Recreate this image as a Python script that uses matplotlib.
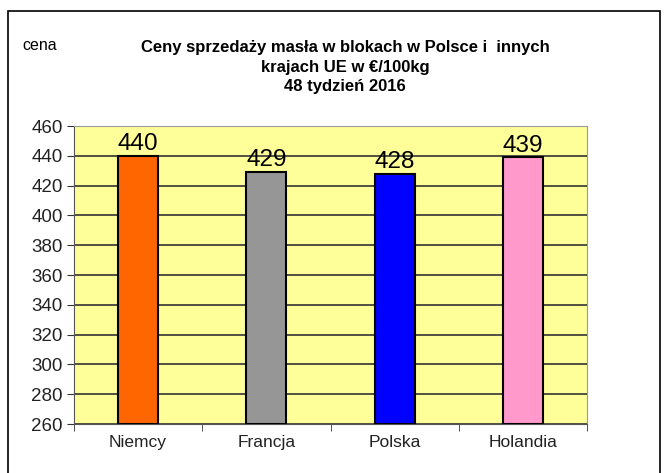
import matplotlib
matplotlib.use("Agg")
import matplotlib.pyplot as plt
from matplotlib.patches import Rectangle
from matplotlib import font_manager as fm

categories = ["Niemcy", "Francja", "Polska", "Holandia"]
values = [440, 429, 428, 439]
colors = ["#FF6600", "#969696", "#0000FF", "#FF99CC"]
yticks = list(range(260, 461, 20))

names = {f.name for f in fm.fontManager.ttflist}
narrow = "Liberation Sans Narrow" if "Liberation Sans Narrow" in names else "Liberation Sans"
plt.rcParams['font.family'] = ['Liberation Sans', 'DejaVu Sans']

W, H = 670, 473
fig = plt.figure(figsize=(6.7, 4.73), dpi=100)
fig.patch.set_facecolor("white")

# outer frame
fig.add_artist(Rectangle((8 / W, -0.05), (660 - 8) / W, (H - 11) / H + 0.05,
                         transform=fig.transFigure, fill=False, edgecolor="black", lw=1.2))

left, right, top, bottom = 74, 587, 126, 424
ax = fig.add_axes([left / W, 1 - bottom / H, (right - left) / W, (bottom - top) / H])
ax.set_facecolor("#FFFF99")
x = list(range(len(categories)))
ax.bar(x, [v - 260 for v in values], bottom=260, width=0.31, color=colors,
       edgecolor="black", linewidth=1.5, zorder=3)
ax.set_xlim(-0.5, 3.5)
ax.set_ylim(260, 460)
ax.set_yticks(yticks)
ax.set_yticklabels([str(t) for t in yticks], fontsize=13.5, color="#222222")
ax.yaxis.grid(True, color="#333333", lw=1.2, zorder=1)
ax.set_xticks(x)
ax.set_xticklabels(categories, fontsize=12.5, color="#222222")
ax.set_xticks([i + 0.5 for i in range(-1, 4)], minor=True)
ax.tick_params(axis="x", which="major", length=0, pad=8)
ax.tick_params(axis="x", which="minor", length=5, color="#333333", direction="out")
ax.tick_params(axis="y", length=5, color="#333333", direction="out", pad=3)
for s in ["top", "right"]:
    ax.spines[s].set_color("#999999")
for s in ["left", "bottom"]:
    ax.spines[s].set_color("#555555")

for xi, v in zip(x, values):
    ax.text(xi, v + 0.5, str(v), ha="center", va="bottom", fontsize=17.5, color="black", zorder=4)

fig.text(22 / W, 1 - 46 / H, "cena", fontsize=11.5, ha="left", va="center", family=[narrow, 'DejaVu Sans'])
fig.text(345 / W, 1 - 67 / H, "Ceny sprzedaży masła w blokach w Polsce i  innych\nkrajach UE w €/100kg\n48 tydzień 2016",
         fontsize=12, ha="center", va="center", fontweight="bold", linespacing=1.35,
         family=[narrow, 'DejaVu Sans'])

fig.savefig("out.png", dpi=100)
